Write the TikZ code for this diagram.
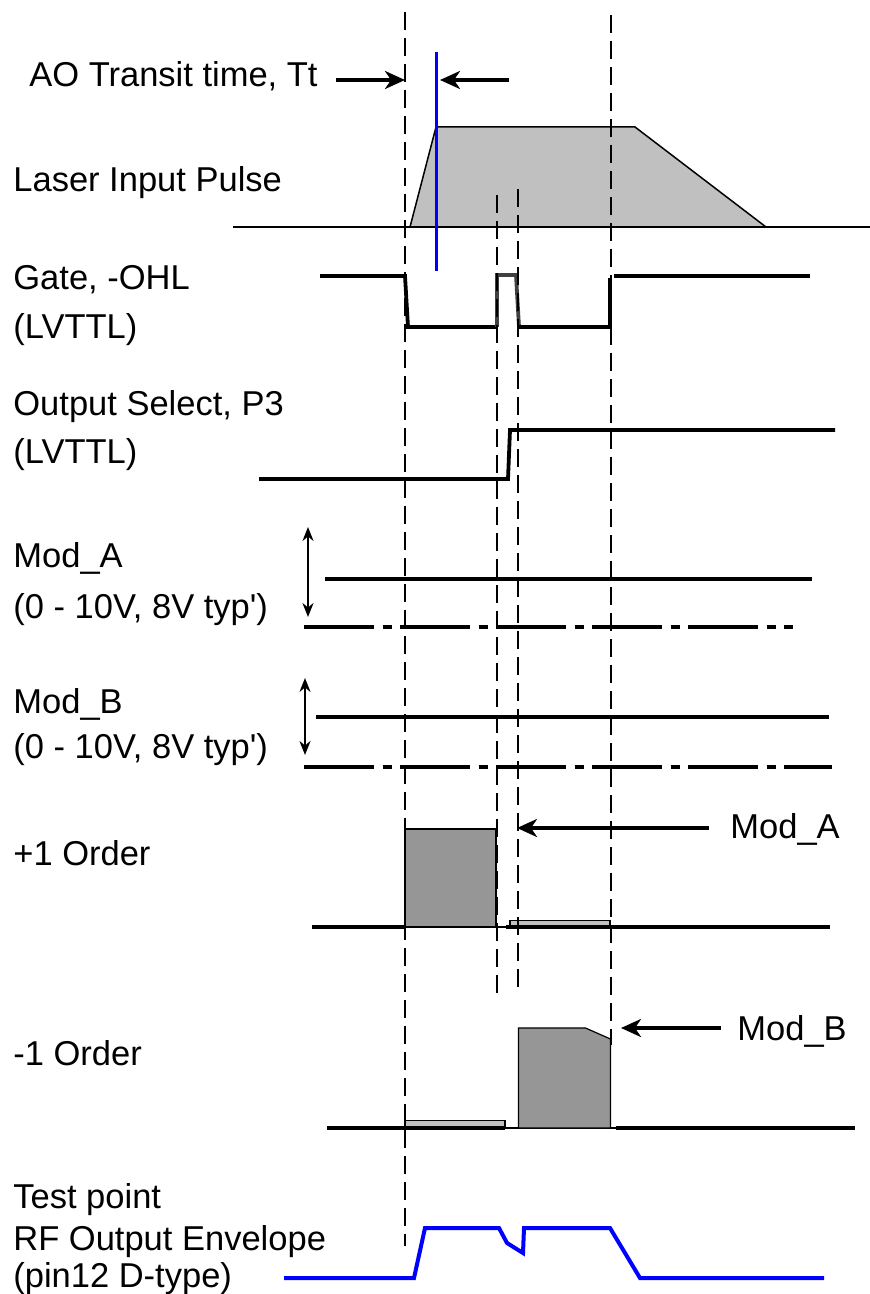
\documentclass[tikz,border=0pt]{standalone}
\usepackage{fontspec}
\setmainfont{Liberation Sans}
\usetikzlibrary{arrows.meta}

\definecolor{pulsedark}{HTML}{969696}
\definecolor{pulselight}{HTML}{C0C0C0}
\definecolor{edgegray}{HTML}{404040}
\newcommand{\sigfont}{\fontsize{17.25}{20}\selectfont}

\begin{document}
\begin{tikzpicture}[x=0.5pt, y=-0.5pt,
	lbl/.style={anchor=base west, inner sep=0pt, font=\sigfont},
	sig/.style={line width=1.9pt},
	thinline/.style={line width=0.75pt},
	guide/.style={line width=1pt, dash pattern=on 9pt off 4pt},
	zeroline/.style={line width=1.9pt, dash pattern=on 35pt off 4.25pt on 4.5pt off 4.25pt},
	darkpulse/.style={fill=pulsedark, draw=black, line width=0.6pt},
	lightpulse/.style={fill=pulselight, draw=black, line width=0.6pt},
	ptr/.style={-{Stealth[length=10pt, width=9pt, inset=3pt]}, line width=1.6pt},
	span/.style={{Stealth[length=7pt, width=5.5pt]}-{Stealth[length=7pt, width=5.5pt]}, line width=1pt},
	env/.style={blue, line width=2pt}]
	
	\useasboundingbox (0,0) rectangle (870,1294);
	
	\node[lbl] (tt)    at (29, 87)   {AO Transit time, Tt};
	\node[lbl] (laser) at (13, 192)  {Laser Input Pulse};
	\node[lbl] (gate)  at (13, 290)  {Gate, -OHL};
	\node[lbl] (gatel) at (13, 338)  {(LVTTL)};
	\node[lbl] (psel)  at (13, 415)  {Output Select, P3};
	\node[lbl] (psell) at (13, 463)  {(LVTTL)};
	\node[lbl] (moda)  at (13, 567)  {Mod\_A};
	\node[lbl] (modal) at (13, 618)  {(0 - 10V, 8V typ\textquotesingle)};
	\node[lbl] (modb)  at (13, 713)  {Mod\_B};
	\node[lbl] (modbl) at (13, 758)  {(0 - 10V, 8V typ\textquotesingle)};
	\node[lbl] (plus)  at (13, 865)  {+1 Order};
	\node[lbl] (minus) at (13, 1065) {-1 Order};
	\node[lbl] (test)  at (13, 1208) {Test point};
	\node[lbl] (rfenv) at (13, 1250) {RF Output Envelope};
	\node[lbl] (pin)   at (13, 1287) {(pin12 D-type)};
	\node[lbl] (modaR) at (730, 838)  {Mod\_A};
	\node[lbl] (modbR) at (737, 1040) {Mod\_B};
	
	% laser pulse
	\draw[thinline] (233,227) -- (870,227);
	\draw[thinline, fill=pulselight] (410,227) -- (436,127) -- (635,127) -- (766,227) -- cycle;
	
	% gate
	\draw[sig] (320,276) -- (405,276) -- (408,327) -- (497,327);
	\draw[sig, edgegray] (497,327) -- (497,275) -- (516,275) -- (519,327);
	\draw[sig] (519,327) -- (610,327) -- (610,278);
	\draw[sig] (614,276) -- (810,276);
	
	% output select
	\draw[sig] (259,479) -- (508,479) -- (510,430) -- (835,430);
	
	% mod levels
	\coordinate (aTop) at (308,527);
	\coordinate (aBot) at (308,617);
	\coordinate (bTop) at (305,678);
	\coordinate (bBot) at (305,755);
	\path[span] (aTop) edge (aBot);
	\path[span] (bTop) edge (bBot);
	\draw[sig] (325,579) -- (812,579);
	\draw[zeroline] (304,627) -- (793,627);
	\draw[sig] (316,717) -- (829,717);
	\draw[zeroline] (304,767) -- (832,767);
	
	% +1 order
	\draw[sig] (312,927) -- (405,927);
	\draw[thinline] (496,927) -- (506,927);
	\draw[sig] (506,927) -- (830,927);
	\draw[darkpulse] (405,927) rectangle (496,829);
	\draw[lightpulse] (510,925.5) rectangle (610,920.5);
	
	% -1 order
	\draw[sig] (327,1128) -- (505,1128);
	\draw[thinline] (505,1128) -- (616,1128);
	\draw[sig] (616,1128) -- (855,1128);
	\draw[lightpulse] (405,1126.5) rectangle (505,1120.5);
	\draw[darkpulse] (518.5,1128) -- (518.5,1028) -- (585.5,1028) -- (610.5,1039) -- (610.5,1128) -- cycle;
	
	% RF envelope
	\draw[env] (284,1278) -- (414,1278) -- (425,1228) -- (499,1228) -- (507,1243) -- (523,1253)
		-- (524,1228) -- (610,1228) -- (640,1278) -- (824,1278);
	
	% timing guides
	\coordinate (d1t) at (405,12);
	\coordinate (d1b) at (405,1246);
	\coordinate (d2t) at (497,195);
	\coordinate (d2b) at (497,999);
	\coordinate (d3t) at (518,189);
	\coordinate (d3b) at (518,993);
	\coordinate (d4t) at (611,15);
	\coordinate (d4b) at (611,1045);
	\path[guide] (d1t) edge (d1b);
	\path[guide] (d2t) edge (d2b);
	\path[guide] (d3t) edge (d3b);
	\path[guide] (d4t) edge (d4b);
	
	% transit time
	\coordinate (ttTop) at (436,52);
	\coordinate (ttBot) at (436,271);
	\draw[blue, line width=1.5pt] (ttTop) -- (ttBot);
	\coordinate (ttL)   at (336,80);
	\coordinate (ttLt)  at (405,80);
	\coordinate (ttR)   at (509,80);
	\coordinate (ttRt)  at (440,80);
	\path[ptr] (ttL) edge (ttLt);
	\path[ptr] (ttR) edge (ttRt);
	
	% order labels
	\coordinate (maTail) at (709,828);
	\coordinate (maTip)  at (517,828);
	\coordinate (mbTail) at (721,1028);
	\coordinate (mbTip)  at (621,1028);
	\path[ptr] (maTail) edge (maTip);
	\path[ptr] (mbTail) edge (mbTip);
	
\end{tikzpicture}
\end{document}
